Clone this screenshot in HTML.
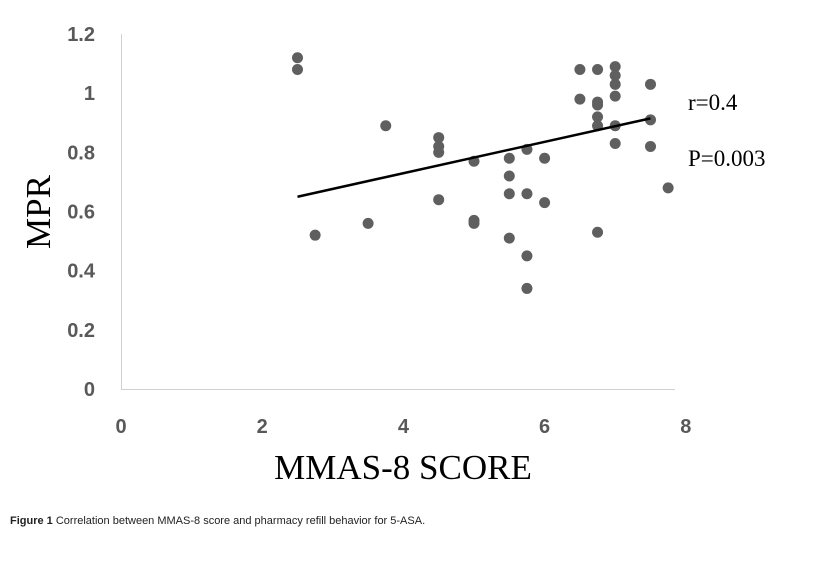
<!DOCTYPE html>
<html><head><meta charset="utf-8"><style>
body{margin:0;background:#fff;width:820px;height:557px;overflow:hidden;font-family:"Liberation Sans",sans-serif}
</style></head><body>
<svg width="820" height="557" id="chart">
<defs><clipPath id="plotclip"><rect x="121" y="20" width="554" height="370"/></clipPath></defs>
<line x1="121.5" y1="34" x2="121.5" y2="389" stroke="#d0d0d0" stroke-width="1"/>
<line x1="121" y1="389.5" x2="675" y2="389.5" stroke="#d0d0d0" stroke-width="1"/>
<g id="yticks"></g>
<g id="xticks"></g>
<g id="points" clip-path="url(#plotclip)"></g>
<line id="trend" stroke="#000" stroke-width="2.5"/>
<text x="688" y="110" font-family="Liberation Serif,serif" font-size="23">r=0.4</text>
<text x="688" y="166" font-family="Liberation Serif,serif" font-size="23">P=0.003</text>
<text x="403" y="479" text-anchor="middle" font-family="Liberation Serif,serif" font-size="35">MMAS-8 SCORE</text>
<text transform="translate(50,212) rotate(-90)" text-anchor="middle" font-family="Liberation Serif,serif" font-size="35">MPR</text>
<text x="10" y="524" font-size="11" fill="#222"><tspan font-weight="bold">Figure 1</tspan> Correlation between MMAS-8 score and pharmacy refill behavior for 5-ASA.</text>
</svg>
<script>
const xTickLabels=["0","2","4","6","8"];
const yTickLabels=["0","0.2","0.4","0.6","0.8","1","1.2"];
const scoreValues=[2.5,2.5,2.75,3.5,3.75,4.5,4.5,4.5,4.5,5,5,5,5.5,5.5,5.5,5.5,5.75,5.75,5.75,5.75,6,6,6.5,6.5,6.75,6.75,6.75,6.75,6.75,6.75,7,7,7,7,7,7,7.5,7.5,7.5,7.75];
const mprValues=[1.12,1.08,0.52,0.56,0.89,0.85,0.82,0.80,0.64,0.77,0.57,0.56,0.78,0.72,0.66,0.51,0.81,0.66,0.45,0.34,0.78,0.63,1.08,0.98,1.08,0.97,0.96,0.92,0.89,0.53,1.09,1.06,1.03,0.99,0.89,0.83,1.03,0.91,0.82,0.68];
const trendX=[2.5,7.5];
const trendY=[0.65,0.915];
const NS="http://www.w3.org/2000/svg";
const sx=v=>121+v*70.6, sy=v=>389-v*295.8;
const yt=document.getElementById('yticks');
yTickLabels.forEach(l=>{const t=document.createElementNS(NS,'text');


t.setAttribute('x',95);t.setAttribute('y',sy(parseFloat(l))+7);t.setAttribute('text-anchor','end');
t.setAttribute('font-size','20');t.setAttribute('font-weight','bold');t.setAttribute('fill','#595959');t.textContent=l;yt.appendChild(t);});
const xt=document.getElementById('xticks');
xTickLabels.forEach(l=>{const t=document.createElementNS(NS,'text');


t.setAttribute('x',sx(parseFloat(l)));t.setAttribute('y',433);t.setAttribute('text-anchor','middle');
t.setAttribute('font-size','20');t.setAttribute('font-weight','bold');t.setAttribute('fill','#595959');t.textContent=l;xt.appendChild(t);});
const pg=document.getElementById('points');
scoreValues.forEach((x,i)=>{const c=document.createElementNS(NS,'circle');


c.setAttribute('cx',sx(x));c.setAttribute('cy',sy(mprValues[i]));c.setAttribute('r',5.5);c.setAttribute('fill','#5f5f5f');pg.appendChild(c);});
const tl=document.getElementById('trend');
tl.setAttribute('x1',sx(trendX[0]));tl.setAttribute('y1',sy(trendY[0]));
tl.setAttribute('x2',sx(trendX[1]));tl.setAttribute('y2',sy(trendY[1]));
</script>
</body></html>
